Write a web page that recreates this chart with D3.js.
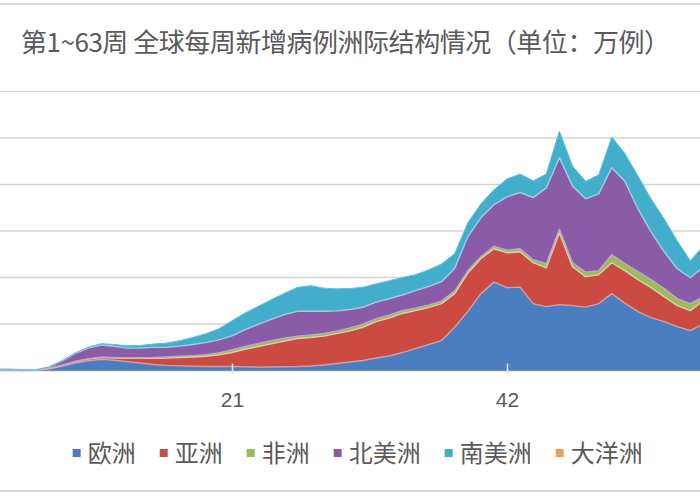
<!DOCTYPE html>
<html><head><meta charset="utf-8">
<script src="https://cdn.jsdelivr.net/npm/d3@7/dist/d3.min.js"></script>
<style>body{margin:0;background:#fff}svg{display:block}</style>
</head><body>
<svg id="chart" width="700" height="500"></svg>
<script>
const title = "第1~63周 全球每周新增病例洲际结构情况（单位：万例）";
const weeks = d3.range(1, 64);
const seriesNames = ["欧洲", "亚洲", "非洲", "北美洲", "南美洲", "大洋洲"];
const seriesColors = ["#4b7ec1", "#cb4a41", "#9cbb58", "#8a5ca8", "#42aecb", "#f59d56"];
const tickLabels = [21, 42];
const gridValues = [0, 100, 200, 300, 400, 500, 600];

const europe = [0,0,0,0,0.1,0.5,3,9,16,21,24,22,19,16,13,11,10,9,8.5,8.5,8.6,7.9,7.3,7.5,8.2,8.6,9.7,11.8,15,18.2,21.5,26.8,31.1,38.6,47.2,55.8,64.4,92.9,126.6,165.2,190,178.1,179.2,143.8,137.3,141.6,139.5,136.3,143.8,165.2,144.9,126.6,113.7,105.2,94.4,85.8,100.9,108,115,122,128,135,140];
const asia = [0.3,1.2,2.0,2.2,1.4,0.8,1.5,2,3,3.5,4,5,7,10,13,16,18,20,22,25,30,37.8,44.2,49.8,54.9,60.1,61.2,62.2,64.4,67,71.5,78.3,81.5,84.1,81.5,79.4,79.4,72.4,82.4,75.1,71.9,75.1,76.2,88.0,83.7,154,83.7,65.5,62.2,66.5,69.8,68.7,64.4,53.7,45.1,42.9,49.4,52,55,60,68,78,90];
const africa = [0,0,0,0,0,0,0.1,0.2,0.4,0.6,0.8,1,1.2,1.5,1.8,2,2.5,3,3.5,4.5,5.8,5.8,6.7,6.7,6.2,4.9,5.4,5.4,5.4,6.4,6.9,6.4,6.4,5.8,5.4,5.4,5.4,5.4,5.4,4.3,5.4,5.4,6.4,6.4,8.6,8,8.6,9.7,8.6,17.2,15.0,17.2,17.2,17.2,15.0,15.0,8.6,9,9,9,9,10,10];
const northAmerica = [0,0,0,0,0,0.1,2.5,9,17,23,26,24,21,21,22,21,22,24,26,28,30,36.5,41.2,46.1,50.9,53.7,51.1,47.9,43.4,39.7,36,35.4,35.4,33.9,37.6,39.7,41.8,48.5,72.9,83.7,89.1,114.8,121.0,133.7,163.1,154.1,165.2,157.7,165.2,187.3,177.1,135.2,103.0,79.4,64.4,55.8,64.4,62,58,55,55,56,58];
const southAmerica = [0,0,0,0,0,0,0.3,0.6,1.2,1.8,2.8,4,5,5.5,7,9,11.5,15,19,24,32.6,35.8,38.6,42.3,45.7,51.5,55.0,49.8,47.4,45.1,43,39.7,38.6,37.6,34.3,36,38,32,30.0,30.0,32.2,38.6,39.7,35.8,30.0,57.3,42.9,37.6,40.8,65.9,60.1,70.8,70.8,70.8,60.1,36.5,45.1,48,50,55,60,68,72];
const oceania = [0,0,0,0,0,0,0.1,0.3,0.5,0.4,0.2,0.05,0.05,0.05,0.05,0.05,0.05,0.05,0.05,0.05,0.05,0.05,0.05,0.05,0.05,0.05,0.1,0.3,0.3,0.3,0.3,0.1,0.1,0.1,0.1,0.1,0.1,0.1,0.1,0.1,0.1,0.1,0.1,0.1,0.1,0.1,0.1,0.1,0.1,0.1,0.1,0.1,0.1,0.1,0.1,0.1,0.1,0.1,0.1,0.1,0.1,0.1,0.1];

const seriesValues = [europe, asia, africa, northAmerica, southAmerica, oceania];
const rows = weeks.map((w, i) => {
  const r = {week: w};
  seriesNames.forEach((n, k) => r[n] = seriesValues[k][i]);
  return r;
});

const svg = d3.select("#chart");
const W = 700;

// x scale: week 21 sits at 232px, week 42 at 507px (plot extends past the visible window)
const pxPerWeek = (507 - 232) / 21;
const x = d3.scaleLinear().domain([1, 63]).range([232 - 20 * pxPerWeek, 507 + 21 * pxPerWeek]);
const y = d3.scaleLinear().domain([0, 600]).range([370.5, 91.5]);

// borders
svg.append("line").attr("x1", 0).attr("x2", W).attr("y1", 4).attr("y2", 4).attr("stroke", "#d9d9d9").attr("stroke-width", 2);
svg.append("line").attr("x1", 0).attr("x2", W).attr("y1", 491).attr("y2", 491).attr("stroke", "#d9d9d9").attr("stroke-width", 2);

// title
svg.append("text").attr("x", 21).attr("y", 52)
  .attr("font-family", "'Noto Sans CJK SC', sans-serif").attr("font-size", 26)
  .attr("fill", "#595959").attr("textLength", 649).attr("lengthAdjust", "spacing")
  .text(title);

// gridlines
svg.append("g").selectAll("line").data(gridValues.filter(v => v > 0)).join("line")
  .attr("x1", 0).attr("x2", W).attr("y1", d => y(d)).attr("y2", d => y(d))
  .attr("stroke", "#d4d4d4").attr("stroke-width", 1.5);

// baseline axis line
svg.append("line").attr("x1", 0).attr("x2", W).attr("y1", y(0)).attr("y2", y(0))
  .attr("stroke", "#a6a6a6").attr("stroke-width", 1.5);

// stacked areas
const stack = d3.stack().keys(seriesNames);
const layers = stack(rows);
const area = d3.area().x(d => x(d.data.week)).y0(d => y(d[0])).y1(d => y(d[1]));
const topLine = d3.line().x(d => x(d.data.week)).y(d => y(d[1]));

const g = svg.append("g");
g.selectAll("path.area").data(layers).join("path").attr("class", "area")
  .attr("d", area).attr("fill", (d, i) => seriesColors[i]);
g.selectAll("path.edge").data(layers.slice(0, 4)).join("path").attr("class", "edge")
  .attr("d", topLine).attr("fill", "none")
  .attr("stroke", (d, i) => d3.interpolateRgb(seriesColors[i + 1], "#ffffff")(0.45))
  .attr("stroke-width", 1.4).attr("stroke-linejoin", "round");
g.append("path").datum(layers[4]).attr("d", topLine).attr("fill", "none")
  .attr("stroke", d3.interpolateRgb(seriesColors[4], "#ffffff")(0.2))
  .attr("stroke-width", 1).attr("stroke-linejoin", "round");

// x axis ticks + labels
const xAxis = d3.axisBottom(x).tickValues(tickLabels).tickSize(0).tickPadding(0).tickFormat(d3.format("d"));
const ax = svg.append("g").attr("transform", `translate(0,${y(0)})`).call(xAxis);
ax.select(".domain").remove();
ax.selectAll(".tick line").remove();
ax.selectAll(".tick").append("line").attr("y1", -7).attr("y2", 3).attr("stroke", "#e6e6e6").attr("stroke-width", 1.5);
ax.selectAll(".tick text").attr("y", 36).attr("dy", null)
  .attr("font-family", "'Liberation Sans', Arial, sans-serif").attr("font-size", 21).attr("fill", "#595959");

// legend
const legend = svg.append("g");
let lx = 72.7;
seriesNames.forEach((n, i) => {
  legend.append("rect").attr("x", lx).attr("y", 449).attr("width", 8).attr("height", 8).attr("fill", seriesColors[i]);
  const t = legend.append("text").attr("x", lx + 15).attr("y", 462)
    .attr("font-family", "'Noto Sans CJK SC', sans-serif").attr("font-size", 24).attr("fill", "#595959").text(n);
  lx += 15 + t.node().getComputedTextLength() + 24;
});
</script>
</body></html>
